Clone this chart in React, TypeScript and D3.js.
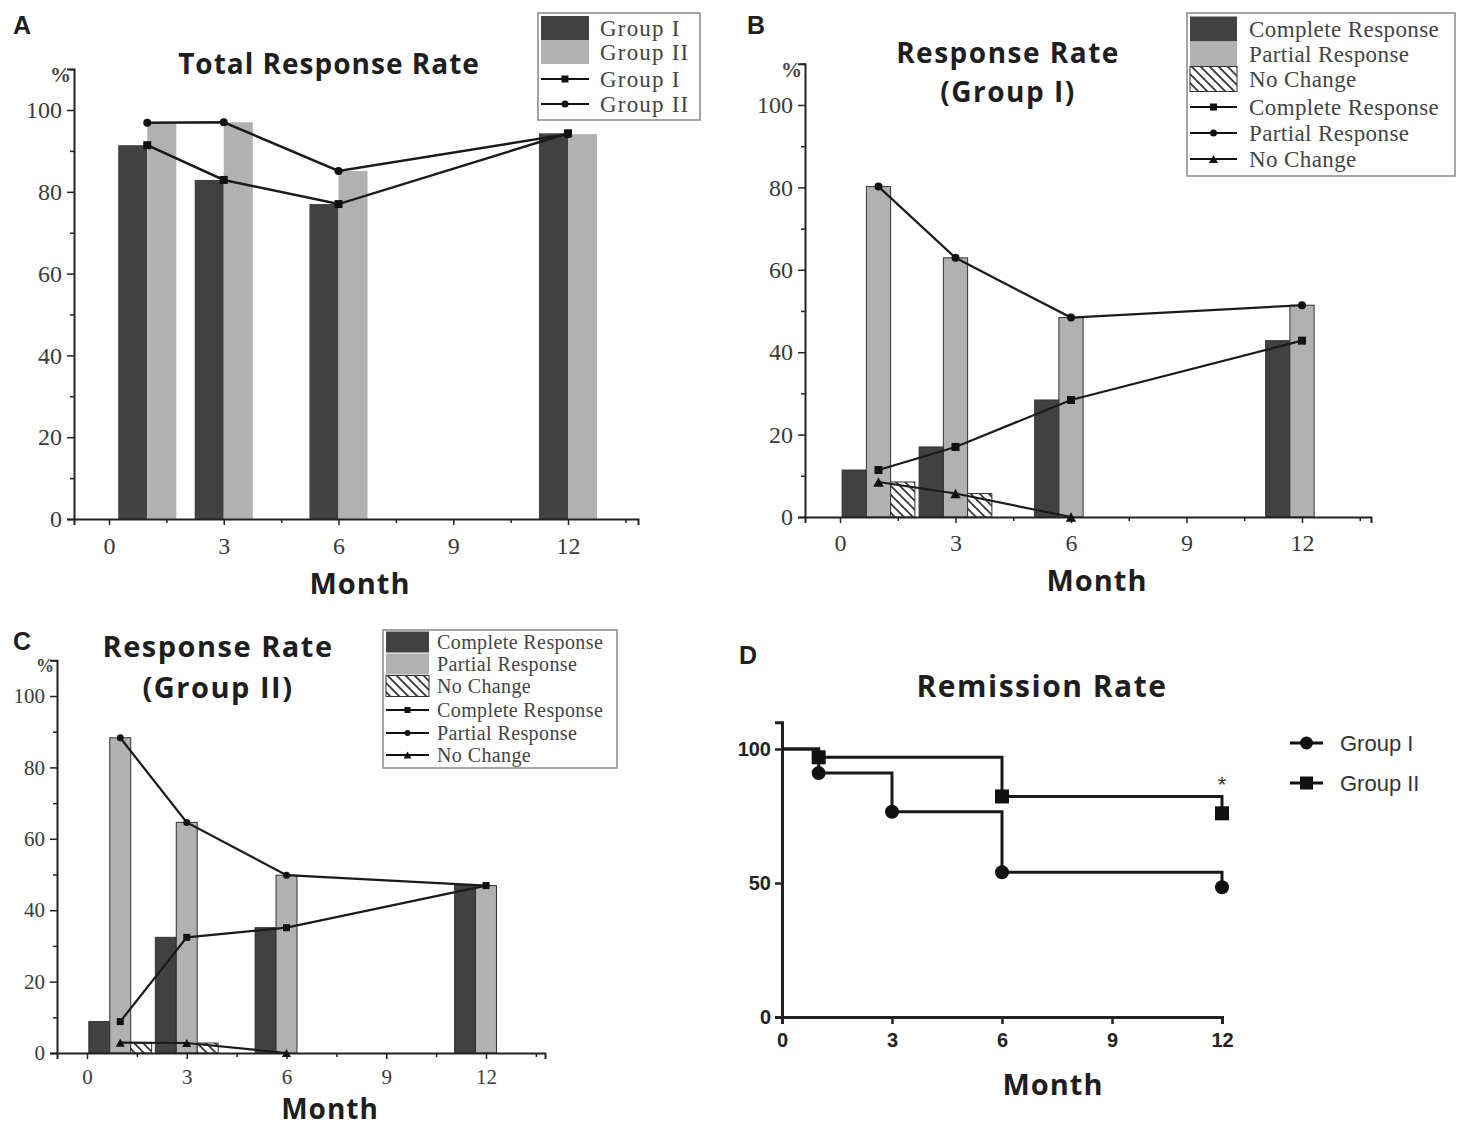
import React, { useEffect, useRef } from 'react';
import * as d3 from 'd3';

// months on the x axis
const months = [1, 3, 6, 12];
const noChangeMonths = [1, 3, 6];
const xTicks = [0, 3, 6, 9, 12];
const xMinorTicks = [1.5, 4.5, 7.5, 10.5, 13.5];
const yTicks = [0, 20, 40, 60, 80, 100];
const yMinorTicks = [10, 30, 50, 70, 90, 110];

// A: total response rate
const totalGroupI = [91.4, 82.9, 77, 94.3];
const totalGroupII = [96.9, 97, 85.1, 94.1];

// B: group I
const g1Complete = [11.4, 17, 28.4, 42.8];
const g1Partial = [80.2, 62.9, 48.4, 51.4];
const g1NoChange = [8.5, 5.7, 0];

// C: group II
const g2Complete = [8.8, 32.4, 35.1, 46.9];
const g2Partial = [88.3, 64.6, 49.8, 46.9];
const g2NoChange = [2.9, 2.8, 0];

// D: remission (step curves)
const kmMonthsI = [0, 1, 3, 6, 12];
const kmGroupI = [100, 91, 76.6, 54, 48.4];
const kmMonthsII = [0, 1, 6, 12];
const kmGroupII = [100, 96.9, 82.3, 76];
const dYTicks = [0, 50, 100];

const DARK = '#414141';
const LIGHT = '#b1b1b1';
const SERIF = '"Liberation Serif", "DejaVu Serif", serif';
const SANS = '"Open Sans", "Liberation Sans", sans-serif';
const ARIAL = '"Liberation Sans", Arial, sans-serif';

const marker = (g, kind, cx, cy, s) => {
  if (kind === 'square') {
    g.append('rect').attr('x', cx - s / 2).attr('y', cy - s / 2).attr('width', s).attr('height', s).attr('fill', '#111');
  } else if (kind === 'circle') {
    g.append('circle').attr('cx', cx).attr('cy', cy).attr('r', s / 2).attr('fill', '#111');
  } else {
    const t = s * 1.3;
    const h = t * 0.9;
    g.append('path')
      .attr('d', `M${cx},${cy - h / 2}L${cx + t / 2},${cy + h / 2}L${cx - t / 2},${cy + h / 2}Z`)
      .attr('fill', '#111');
  }
};

function barPanel(svg, o) {
  const x = d3.scaleLinear().domain([0, 12]).range([o.x0, o.x12]);
  const xa = x.copy().domain([x.invert(o.left), x.invert(o.right)]).range([o.left, o.right]);
  const k = (o.y0 - o.y100) / 100;
  const y = d3.scaleLinear().domain([0, 110]).range([o.y0, o.y0 - 110 * k]);
  const g = svg.append('g');

  // bars
  const n = o.bars.length;
  o.bars.forEach((b, i) => {
    const ms = b.months || months;
    g.selectAll(null)
      .data(b.values.map((v, j) => ({ m: ms[j], v })))
      .enter()
      .append('rect')
      .attr('x', d => x(d.m + (i - n / 2) * o.w))
      .attr('width', d => x(d.m + (i - n / 2 + 1) * o.w) - x(d.m + (i - n / 2) * o.w))
      .attr('y', d => y(d.v))
      .attr('height', d => y(0) - y(d.v))
      .attr('fill', b.fill)
      .attr('stroke', o.barStroke ? '#333' : 'none')
      .attr('stroke-width', 1);
  });

  // axes
  const yAxis = g.append('g').attr('transform', `translate(${o.left},0)`)
    .call(d3.axisLeft(y).tickValues(yTicks).tickSizeOuter(0).tickSize(7).tickPadding(5));
  g.append('g').attr('transform', `translate(${o.left},0)`)
    .call(d3.axisLeft(y).tickValues(yMinorTicks).tickFormat(() => '').tickSize(4))
    .call(s => s.select('.domain').remove());
  const xAxis = g.append('g').attr('transform', `translate(0,${o.y0})`)
    .call(d3.axisBottom(xa).tickValues(xTicks).tickSizeOuter(0).tickSize(6).tickPadding(o.xPad));
  g.append('g').attr('transform', `translate(0,${o.y0})`)
    .call(d3.axisBottom(xa).tickValues(xMinorTicks).tickFormat(() => '').tickSize(4))
    .call(s => s.select('.domain').remove());
  g.selectAll('.domain').attr('stroke', '#222').attr('stroke-width', 2);
  g.selectAll('.tick line').attr('stroke', '#222').attr('stroke-width', 1.5);
  [xAxis, yAxis].forEach(a => a.selectAll('text')
    .attr('font-family', SERIF).attr('font-size', o.tickFont).attr('fill', '#3a3a3a'));

  // lines
  o.lines.forEach(l => {
    const ms = l.months || months;
    const pts = l.values.map((v, j) => [x(ms[j]), y(v)]);
    g.append('path').attr('d', d3.line()(pts)).attr('fill', 'none').attr('stroke', '#1a1a1a').attr('stroke-width', o.lineW);
    pts.forEach(p => marker(g, l.marker, p[0], p[1], o.markerSize));
  });

  g.append('text').attr('x', o.left - 3).attr('y', y(110) + 6).attr('text-anchor', 'end')
    .attr('dominant-baseline', 'central').attr('font-family', SERIF)
    .attr('font-size', o.tickFont - 3).attr('font-weight', 'bold').attr('fill', '#444').text('%');
}

function legend(svg, o) {
  const g = svg.append('g');
  g.append('rect').attr('x', o.x).attr('y', o.y).attr('width', o.w).attr('height', o.h)
    .attr('fill', 'white').attr('stroke', '#888').attr('stroke-width', 1.5);
  o.items.forEach((it, i) => {
    const cy = o.rows[i];
    const sx = o.x + 3;
    if (it.fill) {
      g.append('rect').attr('x', sx).attr('y', cy - o.rowH / 2).attr('width', o.swW).attr('height', o.rowH)
        .attr('fill', it.fill).attr('stroke', it.fill.startsWith('url') ? '#333' : 'none');
    } else {
      g.append('line').attr('x1', sx).attr('x2', sx + o.swW).attr('y1', cy).attr('y2', cy)
        .attr('stroke', '#111').attr('stroke-width', 2);
      marker(g, it.marker, sx + o.swW / 2, cy, o.markerSize);
    }
    g.append('text').attr('x', o.textX).attr('y', cy).attr('dominant-baseline', 'central')
      .attr('font-family', SERIF).attr('font-size', o.font).attr('letter-spacing', o.ls)
      .attr('fill', '#444').text(it.label);
  });
}

const label = (svg, x, y, txt, size, family = SANS, ls = 0) =>
  svg.append('text').attr('x', x).attr('y', y).attr('text-anchor', 'middle').attr('dominant-baseline', 'central')
    .attr('font-family', family).attr('font-weight', 'bold').attr('font-size', size).attr('letter-spacing', ls)
    .attr('fill', '#1e1e1e').text(txt);

export default function App() {
  const ref = useRef(null);

  useEffect(() => {
    const svg = d3.select(ref.current);
    svg.selectAll('*').remove();

    const defs = svg.append('defs');
    const pat = defs.append('pattern').attr('id', 'hatch').attr('patternUnits', 'userSpaceOnUse')
      .attr('width', 9).attr('height', 9);
    pat.append('rect').attr('width', 9).attr('height', 9).attr('fill', 'white');
    pat.append('path').attr('d', 'M0,0L9,9M-3,6L3,12M6,-3L12,3').attr('stroke', '#333').attr('stroke-width', 1.7);

    // Panel A
    barPanel(svg, {
      left: 74, right: 638, x0: 109, x12: 568, y0: 519, y100: 110, w: 0.76,
      bars: [{ values: totalGroupI, fill: DARK }, { values: totalGroupII, fill: LIGHT }],
      lines: [{ values: totalGroupI, marker: 'square' }, { values: totalGroupII, marker: 'circle' }],
      barStroke: false, tickFont: 24, xPad: 12, lineW: 2.5, markerSize: 8,
    });
    legend(svg, {
      x: 538, y: 13, w: 162, h: 107, swW: 48, rowH: 24, rows: [28, 52, 79, 104], textX: 600,
      font: 23, ls: 1.2, markerSize: 7,
      items: [
        { label: 'Group I', fill: DARK }, { label: 'Group II', fill: LIGHT },
        { label: 'Group I', marker: 'square' }, { label: 'Group II', marker: 'circle' },
      ],
    });
    label(svg, 22, 25, 'A', 25, ARIAL);
    label(svg, 329, 63, 'Total Response Rate', 28, SANS, 1);
    label(svg, 360, 582, 'Month', 29, SANS, 1);

    // Panel B
    barPanel(svg, {
      left: 805, right: 1371, x0: 840, x12: 1302, y0: 517, y100: 105, w: 0.63,
      bars: [
        { values: g1Complete, fill: DARK }, { values: g1Partial, fill: LIGHT },
        { values: g1NoChange, months: noChangeMonths, fill: 'url(#hatch)' },
      ],
      lines: [
        { values: g1Complete, marker: 'square' }, { values: g1Partial, marker: 'circle' },
        { values: g1NoChange, months: noChangeMonths, marker: 'triangle' },
      ],
      barStroke: true, tickFont: 24, xPad: 11, lineW: 2.2, markerSize: 8,
    });
    legend(svg, {
      x: 1187, y: 13, w: 268, h: 163, swW: 47, rowH: 25, rows: [29, 54, 79, 107, 133, 159], textX: 1249,
      font: 23, ls: 0.4, markerSize: 7,
      items: [
        { label: 'Complete Response', fill: DARK }, { label: 'Partial Response', fill: LIGHT },
        { label: 'No Change', fill: 'url(#hatch)' },
        { label: 'Complete Response', marker: 'square' }, { label: 'Partial Response', marker: 'circle' },
        { label: 'No Change', marker: 'triangle' },
      ],
    });
    label(svg, 756, 25, 'B', 25, ARIAL);
    label(svg, 1008, 52, 'Response Rate', 28, SANS, 1.5);
    label(svg, 1008, 91, '(Group I)', 28, SANS, 1.5);
    label(svg, 1097, 579, 'Month', 29, SANS, 1);

    // Panel C
    barPanel(svg, {
      left: 57, right: 545, x0: 87, x12: 486, y0: 1053, y100: 696, w: 0.63,
      bars: [
        { values: g2Complete, fill: DARK }, { values: g2Partial, fill: LIGHT },
        { values: g2NoChange, months: noChangeMonths, fill: 'url(#hatch)' },
      ],
      lines: [
        { values: g2Complete, marker: 'square' }, { values: g2Partial, marker: 'circle' },
        { values: g2NoChange, months: noChangeMonths, marker: 'triangle' },
      ],
      barStroke: true, tickFont: 21, xPad: 10, lineW: 2.2, markerSize: 7,
    });
    legend(svg, {
      x: 383, y: 630, w: 234, h: 138, swW: 43, rowH: 21, rows: [642, 664, 686, 710, 733, 755], textX: 437,
      font: 20, ls: 0.4, markerSize: 6,
      items: [
        { label: 'Complete Response', fill: DARK }, { label: 'Partial Response', fill: LIGHT },
        { label: 'No Change', fill: 'url(#hatch)' },
        { label: 'Complete Response', marker: 'square' }, { label: 'Partial Response', marker: 'circle' },
        { label: 'No Change', marker: 'triangle' },
      ],
    });
    label(svg, 22, 641, 'C', 25, ARIAL);
    label(svg, 218, 645, 'Response Rate', 29, SANS, 1.5);
    label(svg, 218, 686, '(Group II)', 29, SANS, 1.5);
    label(svg, 330, 1108, 'Month', 28, SANS, 1);

    // Panel D
    const dx = d3.scaleLinear().domain([0, 12]).range([782, 1222]);
    const dk = (1017 - 749) / 100;
    const dy = d3.scaleLinear().domain([0, 110]).range([1017, 1017 - 110 * dk]);
    const gd = svg.append('g');
    const ya = gd.append('g').attr('transform', 'translate(782,0)')
      .call(d3.axisLeft(dy).tickValues(dYTicks).tickSizeOuter(0).tickSize(7).tickPadding(4));
    const xa = gd.append('g').attr('transform', 'translate(0,1017)')
      .call(d3.axisBottom(dx).tickValues(xTicks).tickSizeOuter(0).tickSize(7).tickPadding(9));
    gd.selectAll('.domain').attr('stroke', '#222').attr('stroke-width', 3);
    gd.selectAll('.tick line').attr('stroke', '#222').attr('stroke-width', 2.5);
    [ya, xa].forEach(a => a.selectAll('text').attr('font-family', ARIAL).attr('font-weight', 'bold')
      .attr('font-size', 20).attr('fill', '#222'));
    const step = d3.line().curve(d3.curveStepAfter).x(d => dx(d[0])).y(d => dy(d[1]));
    [
      { ms: kmMonthsI, vs: kmGroupI, marker: 'circle', size: 14 },
      { ms: kmMonthsII, vs: kmGroupII, marker: 'square', size: 14 },
    ].forEach(s => {
      const pts = s.ms.map((m, i) => [m, s.vs[i]]);
      gd.append('path').attr('d', step(pts)).attr('fill', 'none').attr('stroke', '#1a1a1a').attr('stroke-width', 3);
      pts.slice(1).forEach(p => marker(gd, s.marker, dx(p[0]), dy(p[1]), s.size));
    });
    gd.append('text').attr('x', dx(12)).attr('y', dy(84)).attr('text-anchor', 'middle')
      .attr('font-family', ARIAL).attr('font-size', 22).attr('fill', '#333').text('*');
    [{ t: 'Group I', m: 'circle', y: 743 }, { t: 'Group II', m: 'square', y: 783 }].forEach(it => {
      gd.append('line').attr('x1', 1290).attr('x2', 1323).attr('y1', it.y).attr('y2', it.y)
        .attr('stroke', '#111').attr('stroke-width', 3);
      marker(gd, it.m, 1306.5, it.y, 13);
      gd.append('text').attr('x', 1340).attr('y', it.y).attr('dominant-baseline', 'central')
        .attr('font-family', ARIAL).attr('font-size', 22).attr('fill', '#333').text(it.t);
    });
    label(svg, 748, 655, 'D', 25, ARIAL);
    label(svg, 1042, 685, 'Remission Rate', 30, SANS, 1.5);
    label(svg, 1053, 1083, 'Month', 29, SANS, 1);
  }, []);

  return (
    <svg ref={ref} width={1457} height={1126}
      style={{ position: 'absolute', left: 0, top: 0, background: 'white' }} />
  );
}
